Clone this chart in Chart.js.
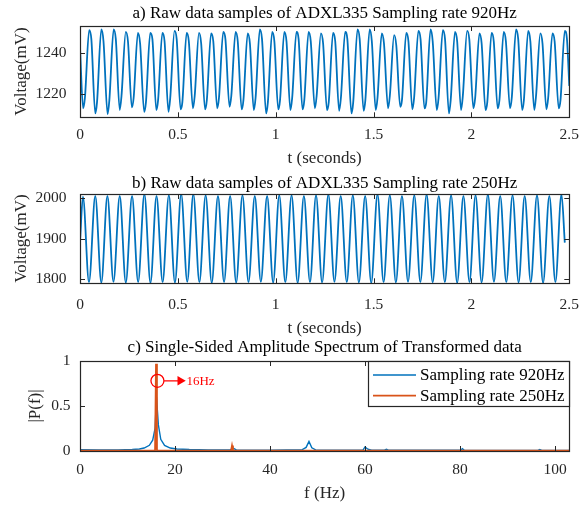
<!DOCTYPE html>
<html>
<head>
<meta charset="utf-8">
<script src="https://cdn.jsdelivr.net/npm/chart.js@4.4.1/dist/chart.umd.min.js"></script>
<style>
  body { margin: 0; background: #fff; width: 579px; height: 508px; position: relative; overflow: hidden; }
  canvas { position: absolute; left: 0; display: block; }
</style>
</head>
<body>
<canvas id="chartA" width="579" height="170" style="top:0"></canvas>
<canvas id="chartB" width="579" height="170" style="top:170px"></canvas>
<canvas id="chartC" width="579" height="174" style="top:334px"></canvas>
<script>
// ---- a) 920Hz raw samples (one value per feature of each cycle)
const aStart = [0, 1243];
const aEnd = [2.5, 1224];
const aTroughT = [0.016, 0.078, 0.141, 0.203, 0.265, 0.328, 0.390, 0.452, 0.514, 0.577, 0.639, 0.701, 0.764, 0.826, 0.888, 0.951, 1.013, 1.075, 1.137, 1.200,
                  1.262, 1.324, 1.387, 1.449, 1.511, 1.574, 1.636, 1.698, 1.760, 1.823, 1.885, 1.947, 2.010, 2.072, 2.134, 2.197, 2.259, 2.321, 2.383, 2.446];
const aTroughMv = [1212.9, 1210.4, 1210.1, 1212.1, 1213.4, 1211.2, 1212.1, 1211.2, 1212.4, 1212.9, 1212.4, 1212.9, 1213.7, 1212.4, 1212.1, 1210.4, 1212.4, 1212.1, 1212.4, 1212.9,
                   1212.1, 1211.7, 1210.4, 1211.7, 1212.1, 1212.9, 1213.7, 1212.4, 1212.9, 1212.1, 1210.4, 1212.1, 1212.9, 1212.1, 1212.9, 1212.9, 1212.1, 1212.1, 1212.4, 1212.9];
const aKinkT = [0.025, 0.087, 0.150, 0.212, 0.274, 0.337, 0.399, 0.461, 0.523, 0.586, 0.648, 0.710, 0.773, 0.835, 0.897, 0.960, 1.022, 1.084, 1.146, 1.209,
                1.271, 1.333, 1.396, 1.458, 1.520, 1.583, 1.645, 1.707, 1.769, 1.832, 1.894, 1.956, 2.019, 2.081, 2.143, 2.206, 2.268, 2.330, 2.392, 2.455];
const aKinkMv = [1218, 1216, 1217, 1219, 1218, 1216, 1217, 1218, 1216, 1219, 1217, 1218, 1219, 1217, 1218, 1216, 1217, 1218, 1217, 1219,
                 1216, 1218, 1216, 1217, 1218, 1219, 1217, 1218, 1216, 1218, 1217, 1219, 1218, 1216, 1217, 1218, 1217, 1219, 1218, 1217];
const aPeakT = [0.047, 0.109, 0.172, 0.234, 0.296, 0.359, 0.421, 0.483, 0.545, 0.608, 0.670, 0.732, 0.795, 0.857, 0.919, 0.982, 1.044, 1.106, 1.168, 1.231,
                1.293, 1.355, 1.418, 1.480, 1.542, 1.605, 1.667, 1.729, 1.791, 1.854, 1.916, 1.978, 2.041, 2.103, 2.165, 2.228, 2.290, 2.352, 2.414, 2.477];
const aPeakMv = [1251.5, 1251.8, 1251.8, 1250.6, 1250.1, 1250.1, 1250.1, 1251.1, 1250.1, 1250.1, 1249.9, 1250.6, 1250.6, 1249.9, 1251.8, 1250.6, 1250.6, 1250.6, 1250.6, 1249.9,
                 1250.1, 1250.6, 1251.8, 1251.8, 1249.9, 1249.0, 1250.1, 1251.1, 1251.8, 1251.5, 1250.6, 1251.1, 1249.9, 1250.1, 1250.6, 1251.8, 1251.1, 1249.9, 1249.9, 1251.1];
const aShoulderT = [0.058, 0.120, 0.183, 0.245, 0.307, 0.370, 0.432, 0.494, 0.556, 0.619, 0.681, 0.743, 0.806, 0.868, 0.930, 0.993, 1.055, 1.117, 1.179, 1.242,
                    1.304, 1.366, 1.429, 1.491, 1.553, 1.616, 1.678, 1.740, 1.802, 1.865, 1.927, 1.989, 2.052, 2.114, 2.176, 2.239, 2.301, 2.363, 2.425, 2.488];
const aShoulderMv = [1247, 1246, 1247, 1246, 1245, 1247, 1246, 1247, 1246, 1245, 1246, 1247, 1246, 1245, 1247, 1246, 1246, 1247, 1246, 1245,
                     1246, 1247, 1247, 1246, 1245, 1244, 1246, 1247, 1246, 1247, 1246, 1247, 1245, 1246, 1246, 1247, 1246, 1245, 1246, 1247];

// ---- b) 250Hz raw samples
const bStart = [0, 1892];
const bEnd = [2.477, 1890];
const bPeakT = [0.015, 0.078, 0.140, 0.203, 0.266, 0.329, 0.391, 0.454, 0.517, 0.579, 0.642, 0.705, 0.767, 0.830, 0.893, 0.956, 1.018, 1.081, 1.144, 1.206,
                1.269, 1.332, 1.394, 1.457, 1.520, 1.583, 1.645, 1.708, 1.771, 1.833, 1.896, 1.959, 2.021, 2.084, 2.147, 2.210, 2.272, 2.335, 2.398, 2.460];
const bPeakMv = [2004, 2005.7, 2005.7, 2005.7, 2005.7, 2010.7, 2005.7, 2008, 2010.7, 2010.7, 2008, 2005.7, 2005.7, 2008, 2005.7, 2005.7, 2008, 2008, 2006, 2008,
                 2010, 2006, 2008, 2006, 2010, 2008, 2006, 2008, 2010, 2006, 2008, 2006, 2008, 2010, 2006, 2008, 2006, 2008, 2006, 2010];
const bTroughT = [0.046, 0.109, 0.171, 0.234, 0.297, 0.360, 0.422, 0.485, 0.548, 0.610, 0.673, 0.736, 0.798, 0.861, 0.924, 0.987, 1.049, 1.112, 1.175, 1.237,
                  1.300, 1.363, 1.425, 1.488, 1.551, 1.614, 1.676, 1.739, 1.802, 1.864, 1.927, 1.990, 2.052, 2.115, 2.178, 2.241, 2.303, 2.366, 2.429];
const bTroughMv = [1792, 1791, 1793, 1791, 1792, 1790, 1792, 1791, 1793, 1792, 1790, 1792, 1791, 1792, 1793, 1791, 1792, 1790, 1792, 1791,
                   1793, 1792, 1791, 1790, 1792, 1791, 1793, 1792, 1791, 1792, 1790, 1792, 1791, 1793, 1792, 1791, 1792, 1790, 1792];

// ---- c) single-sided amplitude spectra
const fBlue = [0, 4, 8, 11, 12.5, 13.5, 14.6, 15.3, 15.8, 16.1, 16.5, 17, 17.8, 19, 20.4, 23, 27, 31.6, 32.3, 32.9,
               40, 46.8, 47.6, 48.2, 48.8, 49.6, 56, 59.6, 60.0, 60.6, 61.4, 64.1, 64.5, 64.9, 72, 80.1, 80.5, 80.9, 88, 96.4,
               96.8, 97.2, 103];
const pBlue = [0.014, 0.012, 0.013, 0.016, 0.022, 0.033, 0.063, 0.12, 0.25, 0.6, 0.29, 0.13, 0.063, 0.033, 0.022, 0.016, 0.013, 0.012, 0.03, 0.012,
               0.01, 0.015, 0.04, 0.107, 0.035, 0.012, 0.01, 0.012, 0.045, 0.02, 0.01, 0.009, 0.02, 0.009, 0.008, 0.008, 0.025, 0.008, 0.007, 0.006,
               0.016, 0.006, 0.006];
const fOrange = [0, 15.8, 16.0, 16.2, 31.8, 32.0, 32.2, 103];
const pOrange = [0.004, 0.004, 0.97, 0.004, 0.003, 0.06, 0.003, 0.003];

// ---- tick labels
const tTicks = [0, 0.5, 1, 1.5, 2, 2.5];
const aTicksY = [1220, 1240];
const bTicksY = [1800, 1900, 2000];
const cTicksX = [0, 20, 40, 60, 80, 100];
const cTicksY = [0, 0.5, 1];

// ---- 16Hz marker
const markF = [16.3];
const markP = [0.78];
const arrowF = [17.7, 21.1];
const markText = '16Hz';
const markTextF = 22.4;

const FONT = "'Liberation Serif', 'Times New Roman', serif";
const AXIS = '#262626';
const BLUE = '#0072BD';
const ORANGE = '#D95319';
const RED = '#FF0000';

function serif(size) {
  return { family: FONT, size: size, weight: 'normal', lineHeight: 1.2 };
}

function pairs(ts, vs) {
  return ts.map((t, i) => ({ x: t, y: vs[i] }));
}

function wave(start, end, parts) {
  let pts = [{ x: start[0], y: start[1] }, { x: end[0], y: end[1] }];
  parts.forEach(p => { pts = pts.concat(pairs(p[0], p[1])); });
  return pts.sort((p, q) => p.x - q.x);
}

function tickList(values) {
  return s => { s.ticks = values.map(v => ({ value: v })); };
}

// box round the plot plus MATLAB-style inward ticks
const framePlugin = {
  id: 'frame',
  afterDatasetsDraw(chart) {
    const { ctx, chartArea: a, scales: { x, y } } = chart;
    const len = 5;
    ctx.save();
    ctx.strokeStyle = AXIS;
    ctx.lineWidth = 1;
    ctx.beginPath();
    x.ticks.forEach(t => {
      const px = Math.round(x.getPixelForValue(t.value)) + 0.5;
      ctx.moveTo(px, a.bottom); ctx.lineTo(px, a.bottom - len);
      ctx.moveTo(px, a.top); ctx.lineTo(px, a.top + len);
    });
    y.ticks.forEach(t => {
      const py = Math.round(y.getPixelForValue(t.value)) + 0.5;
      ctx.moveTo(a.left, py); ctx.lineTo(a.left + len, py);
      ctx.moveTo(a.right, py); ctx.lineTo(a.right - len, py);
    });
    ctx.stroke();
    ctx.lineWidth = 1.2;
    ctx.strokeRect(Math.round(a.left) + 0.5, Math.round(a.top) + 0.5,
      Math.round(a.right - a.left), Math.round(a.bottom - a.top));
    ctx.restore();
  }
};

function makeOptions(c) {
  return {
    responsive: false,
    animation: false,
    layout: { padding: { left: 0, right: 9.7, top: 0, bottom: 0 } },
    plugins: {
      legend: { display: false },
      tooltip: { enabled: false },
      title: {
        display: true, text: c.title, fullSize: false, color: '#000',
        font: serif(17), padding: c.titlePad
      }
    },
    scales: {
      x: {
        type: 'linear', min: c.xMin, max: c.xMax,
        grid: { display: false, drawTicks: false },
        border: { display: false },
        ticks: { font: serif(15.5), color: AXIS, padding: c.xTickPad, maxRotation: 0, autoSkip: false,
                 callback: v => String(v) },
        afterBuildTicks: tickList(c.xTicks),
        afterFit: s => { s.height = c.xAxisH; s.paddingLeft = 0; s.paddingRight = 0; },
        title: { display: true, text: c.xLabel, font: serif(17), color: AXIS,
                 padding: { top: 0, bottom: c.xTitlePad } }
      },
      y: {
        type: 'linear', min: c.yMin, max: c.yMax,
        grid: { display: false, drawTicks: false },
        border: { display: false },
        ticks: { font: serif(15.5), color: AXIS, padding: c.yTickPad, autoSkip: false,
                 callback: v => String(v) },
        afterBuildTicks: tickList(c.yTicks),
        afterFit: s => { s.width = 80; s.paddingTop = 0; s.paddingBottom = 0; },
        title: { display: true, text: c.yLabel, font: serif(17), color: AXIS,
                 padding: { top: c.yTitlePad, bottom: 0 } }
      }
    }
  };
}

new Chart(document.getElementById('chartA'), {
  type: 'line',
  data: {
    datasets: [{
      data: wave(aStart, aEnd, [[aTroughT, aTroughMv], [aKinkT, aKinkMv], [aPeakT, aPeakMv], [aShoulderT, aShoulderMv]]),
      borderColor: BLUE, borderWidth: 1.8, pointRadius: 0, cubicInterpolationMode: 'monotone', fill: false
    }]
  },
  options: makeOptions({
    title: 'a) Raw data samples of ADXL335 Sampling rate 920Hz',
    titlePad: { top: 3.8, bottom: 1.8 },
    xMin: 0, xMax: 2.5, xTicks: tTicks, xTickPad: 8.4, xAxisH: 52.7, xLabel: 't (seconds)', xTitlePad: 0.8,
    yMin: 1208.5, yMax: 1253.5, yTicks: aTicksY, yTickPad: 13.5, yLabel: 'Voltage(mV)', yTitlePad: 11.3
  }),
  plugins: [framePlugin]
});

new Chart(document.getElementById('chartB'), {
  type: 'line',
  data: {
    datasets: [{
      data: wave(bStart, bEnd, [[bPeakT, bPeakMv], [bTroughT, bTroughMv]]),
      borderColor: BLUE, borderWidth: 1.8, pointRadius: 0, cubicInterpolationMode: 'monotone', fill: false
    }]
  },
  options: makeOptions({
    title: 'b) Raw data samples of ADXL335 Sampling rate 250Hz',
    titlePad: { top: 3.5, bottom: 0.1 },
    xMin: 0, xMax: 2.5, xTicks: tTicks, xTickPad: 12.4, xAxisH: 56.7, xLabel: 't (seconds)', xTitlePad: 0.8,
    yMin: 1789.3, yMax: 2010.7, yTicks: bTicksY, yTickPad: 13.5, yLabel: 'Voltage(mV)', yTitlePad: 11.3
  }),
  plugins: [framePlugin]
});

// legend drawn as a boxed key in the top right corner of the plot
const boxLegend = {
  id: 'boxLegend',
  afterDraw(chart) {
    const { ctx, chartArea: a } = chart;
    const items = chart.data.datasets.filter(d => d.label);
    ctx.save();
    ctx.font = '17px ' + FONT;
    const textW = Math.max(...items.map(d => ctx.measureText(d.label).width));
    const w = Math.round(52 + textW + 5), h = 45;
    const left = Math.round(a.right) - w, top = Math.round(a.top);
    ctx.fillStyle = '#fff';
    ctx.fillRect(left, top, w, h);
    ctx.strokeStyle = AXIS;
    ctx.lineWidth = 1.2;
    ctx.strokeRect(left + 0.5, top + 0.5, w, h);
    items.forEach((d, i) => {
      const cy = top + 14 + i * 20.7;
      ctx.strokeStyle = d.borderColor;
      ctx.lineWidth = d.borderWidth;
      ctx.beginPath();
      ctx.moveTo(left + 5, cy);
      ctx.lineTo(left + 48, cy);
      ctx.stroke();
      ctx.fillStyle = '#000';
      ctx.textBaseline = 'middle';
      ctx.fillText(d.label, left + 52, cy + 1);
    });
    ctx.restore();
  }
};

const markLabel = {
  id: 'markLabel',
  afterDatasetsDraw(chart) {
    const { ctx, scales: { x, y } } = chart;
    ctx.save();
    ctx.font = '13px ' + FONT;
    ctx.fillStyle = RED;
    ctx.textBaseline = 'middle';
    ctx.fillText(markText, x.getPixelForValue(markTextF), y.getPixelForValue(markP[0]) + 0.5);
    ctx.restore();
  }
};

new Chart(document.getElementById('chartC'), {
  type: 'line',
  data: {
    datasets: [
      { label: 'Sampling rate 920Hz', data: pairs(fBlue, pBlue), borderColor: BLUE, borderWidth: 1.4,
        pointRadius: 0, tension: 0, fill: false, order: 3 },
      { label: 'Sampling rate 250Hz', data: pairs(fOrange, pOrange), borderColor: ORANGE, borderWidth: 1.8,
        pointRadius: 0, tension: 0, fill: false, order: 2 },
      { data: pairs(markF, markP), showLine: false, pointStyle: 'circle', pointRadius: 6.5,
        pointBorderColor: RED, pointBorderWidth: 1.3, pointBackgroundColor: 'rgba(0,0,0,0)', order: 1 },
      { data: pairs(arrowF, [markP[0], markP[0]]), borderColor: RED, borderWidth: 1.3,
        pointRadius: [0, 5.5], pointStyle: 'triangle', pointRotation: 90,
        pointBackgroundColor: RED, pointBorderColor: RED, pointBorderWidth: 0, order: 0 }
    ]
  },
  options: makeOptions({
    title: 'c) Single-Sided Amplitude Spectrum of Transformed data',
    titlePad: { top: 3.6, bottom: 3.0 },
    xMin: 0, xMax: 103, xTicks: cTicksX, xTickPad: 9.7, xAxisH: 57, xLabel: 'f (Hz)', xTitlePad: 3.8,
    yMin: 0, yMax: 1, yTicks: cTicksY, yTickPad: 9.5, yLabel: '|P(f)|', yTitlePad: 25.8
  }),
  plugins: [framePlugin, markLabel, boxLegend]
});
</script>
</body>
</html>
